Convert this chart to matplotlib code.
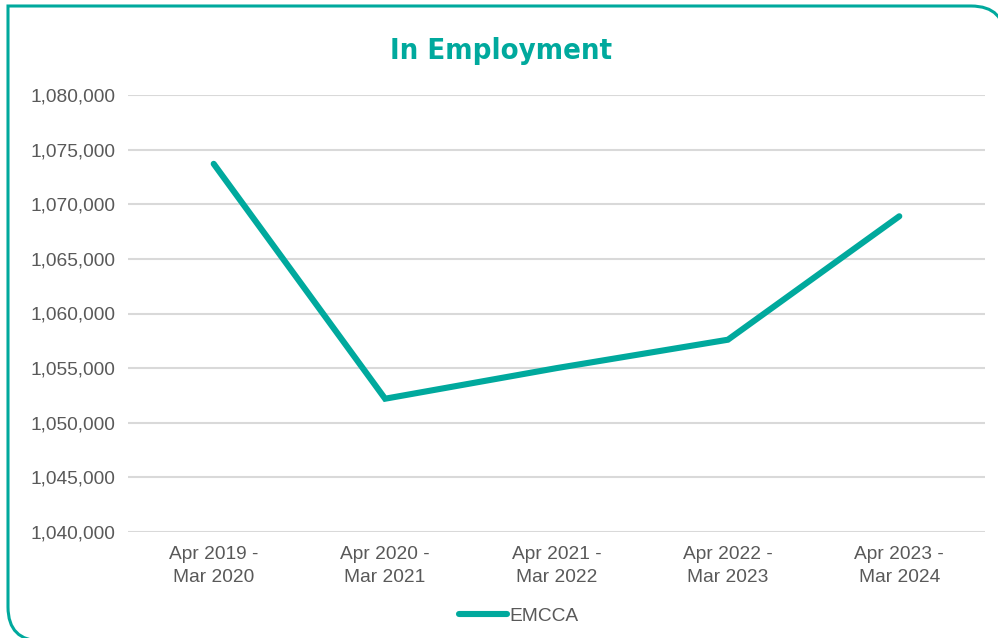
import matplotlib.pyplot as plt
from matplotlib.path import Path
from matplotlib.patches import PathPatch
from matplotlib.ticker import FuncFormatter
import numpy as np

# data
periods = ['Apr 2019 -\nMar 2020', 'Apr 2020 -\nMar 2021', 'Apr 2021 -\nMar 2022',
           'Apr 2022 -\nMar 2023', 'Apr 2023 -\nMar 2024']
emcca = [1073700, 1052200, 1055000, 1057600, 1068900]

teal = '#00A99D'
grey_text = '#595959'

plt.rcParams['font.family'] = ['Liberation Sans', 'DejaVu Sans']

W, H = 998, 638
fig = plt.figure(figsize=(W / 100, H / 100), dpi=100)
ax = fig.add_axes([128 / W, 1 - 532 / H, (985 - 128) / W, (532 - 95) / H])

x = np.arange(len(periods))
ax.plot(x, emcca, color=teal, linewidth=4.4, solid_capstyle='round',
        solid_joinstyle='miter', label='EMCCA', zorder=3)

ax.set_xlim(-0.5, len(periods) - 0.5)
ax.set_ylim(1040000, 1080000)
ax.set_yticks(np.arange(1040000, 1080001, 5000))
ax.yaxis.set_major_formatter(FuncFormatter(lambda v, p: '{:,.0f}'.format(v)))
ax.set_xticks(x)
ax.set_xticklabels(periods, ha='center', linespacing=1.5)
ax.tick_params(axis='both', length=0, labelsize=13.8, colors=grey_text)
ax.tick_params(axis='x', pad=10)
ax.tick_params(axis='y', pad=9)
ax.grid(axis='y', color='#d9d9d9', linewidth=1.5)
ax.set_axisbelow(True)
for s in ax.spines.values():
    s.set_visible(False)

fig.text(0.502, 1 - 51 / H, 'In Employment', ha='center', va='center',
         fontsize=21, fontweight='bold', fontstretch='condensed', color=teal,
         family=['DejaVu Sans'])

fig.legend(loc='center', bbox_to_anchor=(0.52, 1 - 616 / H), frameon=False,
           fontsize=13.8, labelcolor=grey_text, handlelength=2.5,
           handletextpad=0.1)

# outer frame: square top-left, rounded top-right and bottom-left
def fx(px):
    return px / W

def fy(py):
    return 1 - py / H

L, T, R, B, r = 8, 6, 1005, 641, 34
verts = [
    (fx(R), fy(B + 5)),
    (fx(R), fy(T + r)),
    (fx(R), fy(T)), (fx(R - r), fy(T)),
    (fx(L), fy(T)),
    (fx(L), fy(B - r)),
    (fx(L), fy(B)), (fx(L + r), fy(B)),
    (fx(R), fy(B)),
]
codes = [Path.MOVETO, Path.LINETO, Path.CURVE3, Path.CURVE3, Path.LINETO,
         Path.LINETO, Path.CURVE3, Path.CURVE3, Path.LINETO]
frame = PathPatch(Path(verts, codes), facecolor='none', edgecolor=teal,
                  linewidth=2.2, transform=fig.transFigure)
fig.patches.append(frame)

fig.savefig('out.png', dpi=100)
